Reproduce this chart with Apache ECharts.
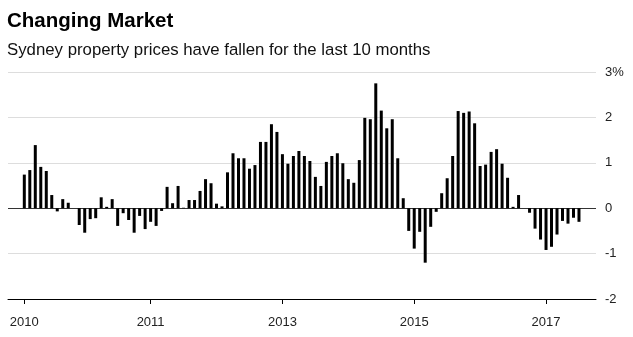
<!DOCTYPE html>
<html>
<head>
<meta charset="utf-8">
<script src="https://cdn.jsdelivr.net/npm/echarts@6/dist/echarts.min.js"></script>
<style>
html,body{margin:0;padding:0;background:#fff;}
#c{width:633px;height:337px;}
</style>
</head>
<body>
<div id="c"></div>
<script>
// Monthly change in Sydney property prices (%), one value per month
var values = [
  0.74, 0.84, 1.39, 0.91, 0.82, 0.29, -0.07, 0.20, 0.12, 0.00,
  -0.37, -0.54, -0.24, -0.22, 0.24, 0.03, 0.20, -0.39, -0.11, -0.26,
  -0.54, -0.17, -0.46, -0.30, -0.39, -0.06, 0.47, 0.11, 0.49, 0.01,
  0.18, 0.18, 0.38, 0.64, 0.55, 0.10, 0.04, 0.79, 1.21, 1.10,
  1.10, 0.87, 0.95, 1.46, 1.46, 1.85, 1.68, 1.19, 0.98, 1.15,
  1.26, 1.15, 1.04, 0.69, 0.49, 1.02, 1.15, 1.21, 0.99, 0.64,
  0.56, 1.06, 1.99, 1.96, 2.75, 2.15, 1.76, 1.96, 1.10, 0.22,
  -0.50, -0.89, -0.52, -1.20, -0.41, -0.08, 0.33, 0.66, 1.15, 2.14,
  2.10, 2.13, 1.87, 0.93, 0.96, 1.24, 1.30, 0.98, 0.67, 0.03,
  0.29, 0.00, -0.10, -0.45, -0.69, -0.92, -0.85, -0.58, -0.28, -0.34,
  -0.21, -0.30
];
// bar index where each x tick sits, and its label
var tickIdx = [0, 23, 47, 71, 95];
var tickLabels = ["2010", "2011", "2013", "2015", "2017"];
// y tick labels
var yTicks = [-2, -1, 0, 1, 2, 3];
var yTickLabels = ["-2", "-1", "0", "1", "2", "3%"];

var FONT = '"Liberation Sans", Arial, Helvetica, sans-serif';
var chart = echarts.init(document.getElementById('c'), null, {renderer: 'canvas'});
var option = {
  animation: false,
  backgroundColor: '#fff',
  title: [
    {text: 'Changing Market', left: 7, top: 9, padding: 0,
     textStyle: {fontFamily: FONT, fontSize: 20.5, fontWeight: 'bold', color: '#000', lineHeight: 24}},
    {text: 'Sydney property prices have fallen for the last 10 months', left: 7, top: 40, padding: 0,
     textStyle: {fontFamily: FONT, fontSize: 16.8, fontWeight: 'normal', color: '#111', lineHeight: 20}}
  ],
  grid: {left: 8, right: 37, top: 72, bottom: 38, containLabel: false},
  xAxis: {
    type: 'value', min: -2.97, max: 104.1,
    splitLine: {show: false},
    axisLine: {show: true, onZero: false, lineStyle: {color: '#000', width: 1}},
    axisTick: {show: true, customValues: tickIdx, length: 5, lineStyle: {color: '#000'}},
    axisLabel: {show: true, customValues: tickIdx, margin: 17,
      fontFamily: FONT, fontSize: 13, color: '#222',
      formatter: function (v) { var k = tickIdx.indexOf(v); return k >= 0 ? tickLabels[k] : ''; }}
  },
  yAxis: {
    type: 'value', position: 'right', min: -2, max: 3, interval: 1,
    axisLine: {show: false}, axisTick: {show: false},
    axisLabel: {margin: 9, fontFamily: FONT, fontSize: 13, color: '#222', align: 'left',
      formatter: function (v) { var k = yTicks.indexOf(v); return k >= 0 ? yTickLabels[k] : ''; }},
    splitLine: {show: true, lineStyle: {color: ['#ddd', '#ddd', '#333', '#ddd', '#ddd', '#ddd'], width: 1}}
  },
  series: [{
    type: 'bar',
    barWidth: 3,
    itemStyle: {color: '#000'},
    data: values.map(function (v, i) { return [i, v]; })
  }]
};
chart.setOption(option);
</script>
</body>
</html>
